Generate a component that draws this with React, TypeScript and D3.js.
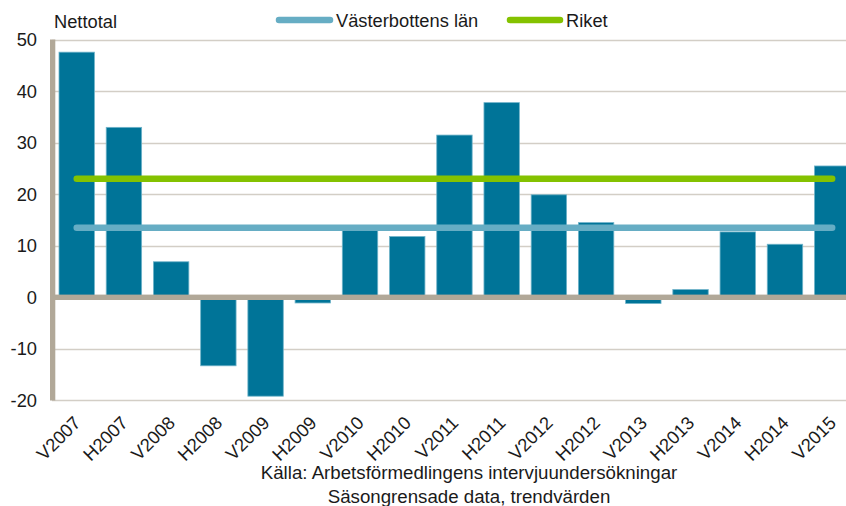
import React from "react";
import * as d3 from "d3";

const categories = ["V2007","H2007","V2008","H2008","V2009","H2009","V2010","H2010","V2011","H2011","V2012","H2012","V2013","H2013","V2014","H2014","V2015"];
const nettotal = [47.6, 33.0, 6.9, -13.3, -19.2, -1.1, 13.8, 11.8, 31.5, 37.8, 19.9, 14.5, -1.2, 1.5, 12.7, 10.3, 25.5];
const vasterbotten = [13.5, 13.5, 13.5, 13.5, 13.5, 13.5, 13.5, 13.5, 13.5, 13.5, 13.5, 13.5, 13.5, 13.5, 13.5, 13.5, 13.5];
const riket = [23, 23, 23, 23, 23, 23, 23, 23, 23, 23, 23, 23, 23, 23, 23, 23, 23];
const yTicks = [-20, -10, 0, 10, 20, 30, 40, 50];
const seriesNames = ["Västerbottens län", "Riket"];
const sourceLines = ["Källa: Arbetsförmedlingens intervjuundersökningar", "Säsongrensade data, trendvärden"];

const W = 846, H = 506;
const FONT = "'Liberation Sans', Arial, sans-serif";
const FS = 18.3;

export default function App() {
  const x = d3.scaleBand<string>().domain(categories).range([53.1, 855.8]).paddingInner(0.25).paddingOuter(0.125);
  const y = d3.scaleLinear().domain([-20, 50]).range([400.3, 39.8]);
  const cx = (c: string) => (x(c) as number) + x.bandwidth() / 2;
  const line = d3.line<number>().x((_, i) => cx(categories[i])).y((d) => y(d));
  const axisColor = "#b1a898";
  const gridColor = "#d3cec6";
  const barColor = "#007498";
  const lineColors = ["#66adc4", "#84c200"];

  return (
    <svg width={W} height={H} style={{ position: "absolute", left: 0, top: 0, background: "#fff" }} fontFamily={FONT}>
      {yTicks.filter((t) => t !== 0).map((t) => (
        <line key={t} x1={52} x2={W} y1={Math.round(y(t)) + 0.5} y2={Math.round(y(t)) + 0.5} stroke={gridColor} strokeWidth={1.5} />
      ))}
      {yTicks.map((t) => (
        <text key={t} x={37} y={y(t)} dy="0.35em" textAnchor="end" fontSize={FS} fill="#1a1a1a">{t}</text>
      ))}
      <text x={54} y={28} fontSize={FS} fill="#1a1a1a">Nettotal</text>
      {nettotal.map((v, i) => (
        <rect key={i} x={x(categories[i])} width={x.bandwidth()} y={Math.min(y(v), y(0))} height={Math.abs(y(v) - y(0))}
          fill={barColor} stroke="#6fb3c9" strokeWidth={0.8} />
      ))}
      <rect x={50} y={39.5} width={5.3} height={361} fill={axisColor} />
      <rect x={50} y={y(0) - 2.7} width={W - 50} height={5.4} fill={axisColor} />
      {[vasterbotten, riket].map((s, k) => (
        <path key={k} d={line(s) || ""} fill="none" stroke={lineColors[k]} strokeWidth={6.5} strokeLinecap="round" />
      ))}
      <line x1={279} x2={330} y1={20} y2={20} stroke={lineColors[0]} strokeWidth={6.5} strokeLinecap="round" />
      <text x={336} y={26.5} fontSize={FS} fill="#1a1a1a">{seriesNames[0]}</text>
      <line x1={510} x2={560} y1={20} y2={20} stroke={lineColors[1]} strokeWidth={6.5} strokeLinecap="round" />
      <text x={566} y={26.5} fontSize={FS} fill="#1a1a1a">{seriesNames[1]}</text>
      {categories.map((c) => (
        <text key={c} transform={`translate(${cx(c) + 5},${424}) rotate(-45)`} textAnchor="end" fontSize={FS} fill="#1a1a1a">{c}</text>
      ))}
      {sourceLines.map((s, i) => (
        <text key={i} x={469} y={479.3 + i * 23.4} textAnchor="middle" fontSize={18.7} fill="#1a1a1a">{s}</text>
      ))}
    </svg>
  );
}
